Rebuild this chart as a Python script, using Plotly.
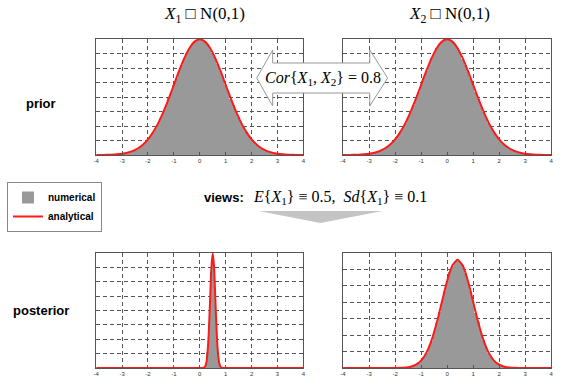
import plotly.graph_objects as go

W, H = 579, 386

# prior N(0,1): analytical curve, x from -4 to 4 in steps of 0.2
prior_pdf = [0.0001, 0.0003, 0.0006, 0.0012, 0.0024, 0.0044, 0.0079, 0.0136, 0.0224, 0.0355,
             0.0540, 0.0790, 0.1109, 0.1497, 0.1942, 0.2420, 0.2897, 0.3332, 0.3683, 0.3910,
             0.3989,
             0.3910, 0.3683, 0.3332, 0.2897, 0.2420, 0.1942, 0.1497, 0.1109, 0.0790, 0.0540,
             0.0355, 0.0224, 0.0136, 0.0079, 0.0044, 0.0024, 0.0012, 0.0006, 0.0003, 0.0001]

# prior histograms, bins of 0.1 centred from -3.0 to 3.0
prior_x1_hist = [0.004, 0.006, 0.008, 0.011, 0.013, 0.018, 0.022, 0.029, 0.035, 0.045,
                 0.053, 0.066, 0.080, 0.093, 0.112, 0.129, 0.151, 0.170, 0.195, 0.217,
                 0.243, 0.265, 0.291, 0.311, 0.334, 0.353, 0.370, 0.384, 0.393, 0.398,
                 0.400,
                 0.399, 0.392, 0.382, 0.367, 0.351, 0.333, 0.313, 0.289, 0.267, 0.241,
                 0.218, 0.193, 0.172, 0.149, 0.130, 0.110, 0.095, 0.078, 0.066, 0.054,
                 0.044, 0.036, 0.028, 0.023, 0.017, 0.014, 0.010, 0.008, 0.006, 0.004]
prior_x2_hist = [0.004, 0.006, 0.008, 0.010, 0.014, 0.017, 0.023, 0.028, 0.036, 0.044,
                 0.055, 0.065, 0.079, 0.094, 0.111, 0.130, 0.150, 0.171, 0.194, 0.218,
                 0.242, 0.266, 0.290, 0.312, 0.333, 0.352, 0.369, 0.383, 0.392, 0.399,
                 0.401,
                 0.398, 0.391, 0.383, 0.368, 0.352, 0.332, 0.312, 0.290, 0.266, 0.242,
                 0.217, 0.194, 0.171, 0.150, 0.129, 0.111, 0.094, 0.079, 0.065, 0.054,
                 0.044, 0.035, 0.029, 0.022, 0.018, 0.013, 0.011, 0.008, 0.006, 0.004]

# posterior X1 ~ N(0.5, 0.1)
post_x1_curve_x = [-4.0, 0.0, 0.1, 0.15, 0.2, 0.25, 0.3, 0.35, 0.4, 0.45, 0.5,
                   0.55, 0.6, 0.65, 0.7, 0.75, 0.8, 0.85, 0.9, 1.0, 4.0]
post_x1_pdf = [0.0, 0.0, 0.0013, 0.0087, 0.044, 0.175, 0.540, 1.295, 2.420, 3.521, 3.989,
               3.521, 2.420, 1.295, 0.540, 0.175, 0.044, 0.0087, 0.0013, 0.0, 0.0]
# bins of 0.05 centred from 0.20 to 0.80
post_x1_hist = [0.05, 0.19, 0.55, 1.28, 2.40, 3.35, 3.80, 3.45, 2.35, 1.30, 0.55, 0.17, 0.05]

# posterior X2, x from -4 to 4 in steps of 0.2
post_x2_pdf = [0.0, 0.0, 0.0, 0.0, 0.0, 0.0, 0.0, 0.0, 0.0, 0.0,
               0.0003, 0.0009, 0.0028, 0.0079, 0.020, 0.045, 0.092, 0.168, 0.275, 0.403,
               0.530, 0.624, 0.659, 0.624, 0.530, 0.403, 0.275, 0.168, 0.092, 0.045,
               0.020, 0.0079, 0.0028, 0.0009, 0.0003, 0.0, 0.0, 0.0, 0.0, 0.0, 0.0]
# bins of 0.1 centred from -1.5 to 2.3
post_x2_hist = [0.005, 0.008, 0.013, 0.020, 0.031, 0.046, 0.066, 0.091, 0.127, 0.167,
                0.219, 0.274, 0.339, 0.401, 0.470, 0.528, 0.585, 0.622, 0.652, 0.662,
                0.648, 0.626, 0.581, 0.532, 0.466, 0.405, 0.336, 0.277, 0.216, 0.169,
                0.125, 0.093, 0.065, 0.046, 0.030, 0.020, 0.012, 0.008, 0.005]

x_ticks = [-4, -3, -2, -1, 0, 1, 2, 3, 4]

GRAY = "#999999"
RED = "#ff1a1a"


def px_x(p):
    return p / W


def px_y(p):
    return 1 - p / H


fig = go.Figure()

panels = [
    # (axis suffix, hist, hist x0, hist dx, curve x, curve y, y max, y step)
    ("", prior_x1_hist, -3.0, 0.1, None, prior_pdf, 0.4, 0.05),
    ("2", prior_x2_hist, -3.0, 0.1, None, prior_pdf, 0.4, 0.05),
    ("3", post_x1_hist, 0.2, 0.05, post_x1_curve_x, post_x1_pdf, 4.0, 0.5),
    ("4", post_x2_hist, -1.5, 0.1, None, post_x2_pdf, 0.7, 0.1),
]

for i, (ax, hist, x0, dx, cx, cy, ymax, ystep) in enumerate(panels):
    fig.add_trace(go.Bar(
        y=hist, x0=x0, dx=dx, width=dx,
        marker=dict(color=GRAY, line=dict(width=0)),
        name="numerical", showlegend=(i == 0),
        xaxis="x" + ax, yaxis="y" + ax,
    ))
    if cx is None:
        curve = go.Scatter(y=cy, x0=-4, dx=0.2)
    else:
        curve = go.Scatter(x=cx, y=cy)
    curve.update(
        mode="lines", line=dict(color=RED, width=2, shape="spline", smoothing=0.6),
        name="analytical", showlegend=(i == 0),
        xaxis="x" + ax, yaxis="y" + ax,
    )
    fig.add_trace(curve)

# panel positions in pixels: (left, right, top, bottom)
boxes = [(94, 303, 39, 155), (343, 553, 39, 155), (94, 303, 253, 368), (343, 553, 253, 368)]

grid = dict(showgrid=True, gridcolor="#555", griddash="4px,3px", gridwidth=1,
            showline=True, linecolor="#555", linewidth=1, mirror=True,
            ticks="inside", ticklen=3, tickcolor="#555",
            zeroline=False, fixedrange=True)

layout = {}
for (ax, hist, x0, dx, cx, cy, ymax, ystep), (l, r, t, b) in zip(panels, boxes):
    layout["xaxis" + ax] = dict(
        domain=[px_x(l), px_x(r)], range=[-4, 4], anchor="y" + ax,
        tickvals=x_ticks, ticktext=[str(v) for v in x_ticks],
        tickfont=dict(size=6, color="#333", family="Liberation Sans"),
        **grid,
    )
    layout["yaxis" + ax] = dict(
        domain=[px_y(b), px_y(t)], range=[0, ymax], anchor="x" + ax,
        dtick=ystep, showticklabels=False,
        **grid,
    )

serif = "Liberation Serif"
sans = "Liberation Sans"

annotations = [
    dict(x=px_x(203), y=px_y(15), text="<i>X</i><sub>1</sub> \u25a1 N(0,1)",
         font=dict(family=serif, size=17, color="black")),
    dict(x=px_x(450), y=px_y(15), text="<i>X</i><sub>2</sub> \u25a1 N(0,1)",
         font=dict(family=serif, size=17, color="black")),
    dict(x=px_x(38), y=px_y(103), text="<b>prior</b>",
         font=dict(family=sans, size=13, color="black")),
    dict(x=px_x(38), y=px_y(310), text="<b>posterior</b>",
         font=dict(family=sans, size=13, color="black")),
    dict(x=px_x(323), y=px_y(78),
         text="<i>Cor</i>{<i>X</i><sub>1</sub>, <i>X</i><sub>2</sub>} = 0.8",
         font=dict(family=serif, size=16, color="black")),
    dict(x=px_x(245), y=px_y(197), xanchor="right", text="<b>views:</b>",
         font=dict(family=sans, size=13, color="black")),
    dict(x=px_x(250), y=px_y(197), xanchor="left",
         text="<i>E</i>{<i>X</i><sub>1</sub>} \u2261 0.5,  <i>Sd</i>{<i>X</i><sub>1</sub>} \u2261 0.1",
         font=dict(family=serif, size=16, color="black")),
]
for a in annotations:
    a.setdefault("xanchor", "center")
    a.update(xref="paper", yref="paper", yanchor="middle", showarrow=False)


def path(points):
    return "M " + " L ".join(f"{px_x(x):.4f},{px_y(y):.4f}" for x, y in points) + " Z"


# double-headed correlation arrow
cor_arrow = [(256, 78), (272, 50), (272, 63), (370, 63), (370, 50), (388, 78),
             (370, 106), (370, 93), (272, 93), (272, 106)]
# wide down arrow below the views
down_arrow = [(258, 211), (383, 211), (320, 223)]

shapes = [
    dict(type="path", path=path(cor_arrow), xref="paper", yref="paper",
         fillcolor="white", line=dict(color="#999999", width=1), layer="above"),
    dict(type="path", path=path(down_arrow), xref="paper", yref="paper",
         fillcolor="#c4c4c4", line=dict(width=0), layer="above"),
]

fig.update_layout(
    width=W, height=H,
    margin=dict(l=0, r=0, t=0, b=0),
    paper_bgcolor="white", plot_bgcolor="white",
    barmode="overlay", bargap=0,
    showlegend=True,
    legend=dict(
        x=px_x(4), y=px_y(182), xanchor="left", yanchor="top",
        bordercolor="#888", borderwidth=1, bgcolor="white",
        font=dict(family=sans, size=10, color="black", weight="bold"),
        tracegroupgap=0, itemwidth=30,
    ),
    annotations=annotations,
    shapes=shapes,
    **layout,
)

# drop the default page margin so the figure sits at the window's corner
fig.write_html("out.html", config={"displayModeBar": False},
               post_script="document.body.style.margin = '0';")
